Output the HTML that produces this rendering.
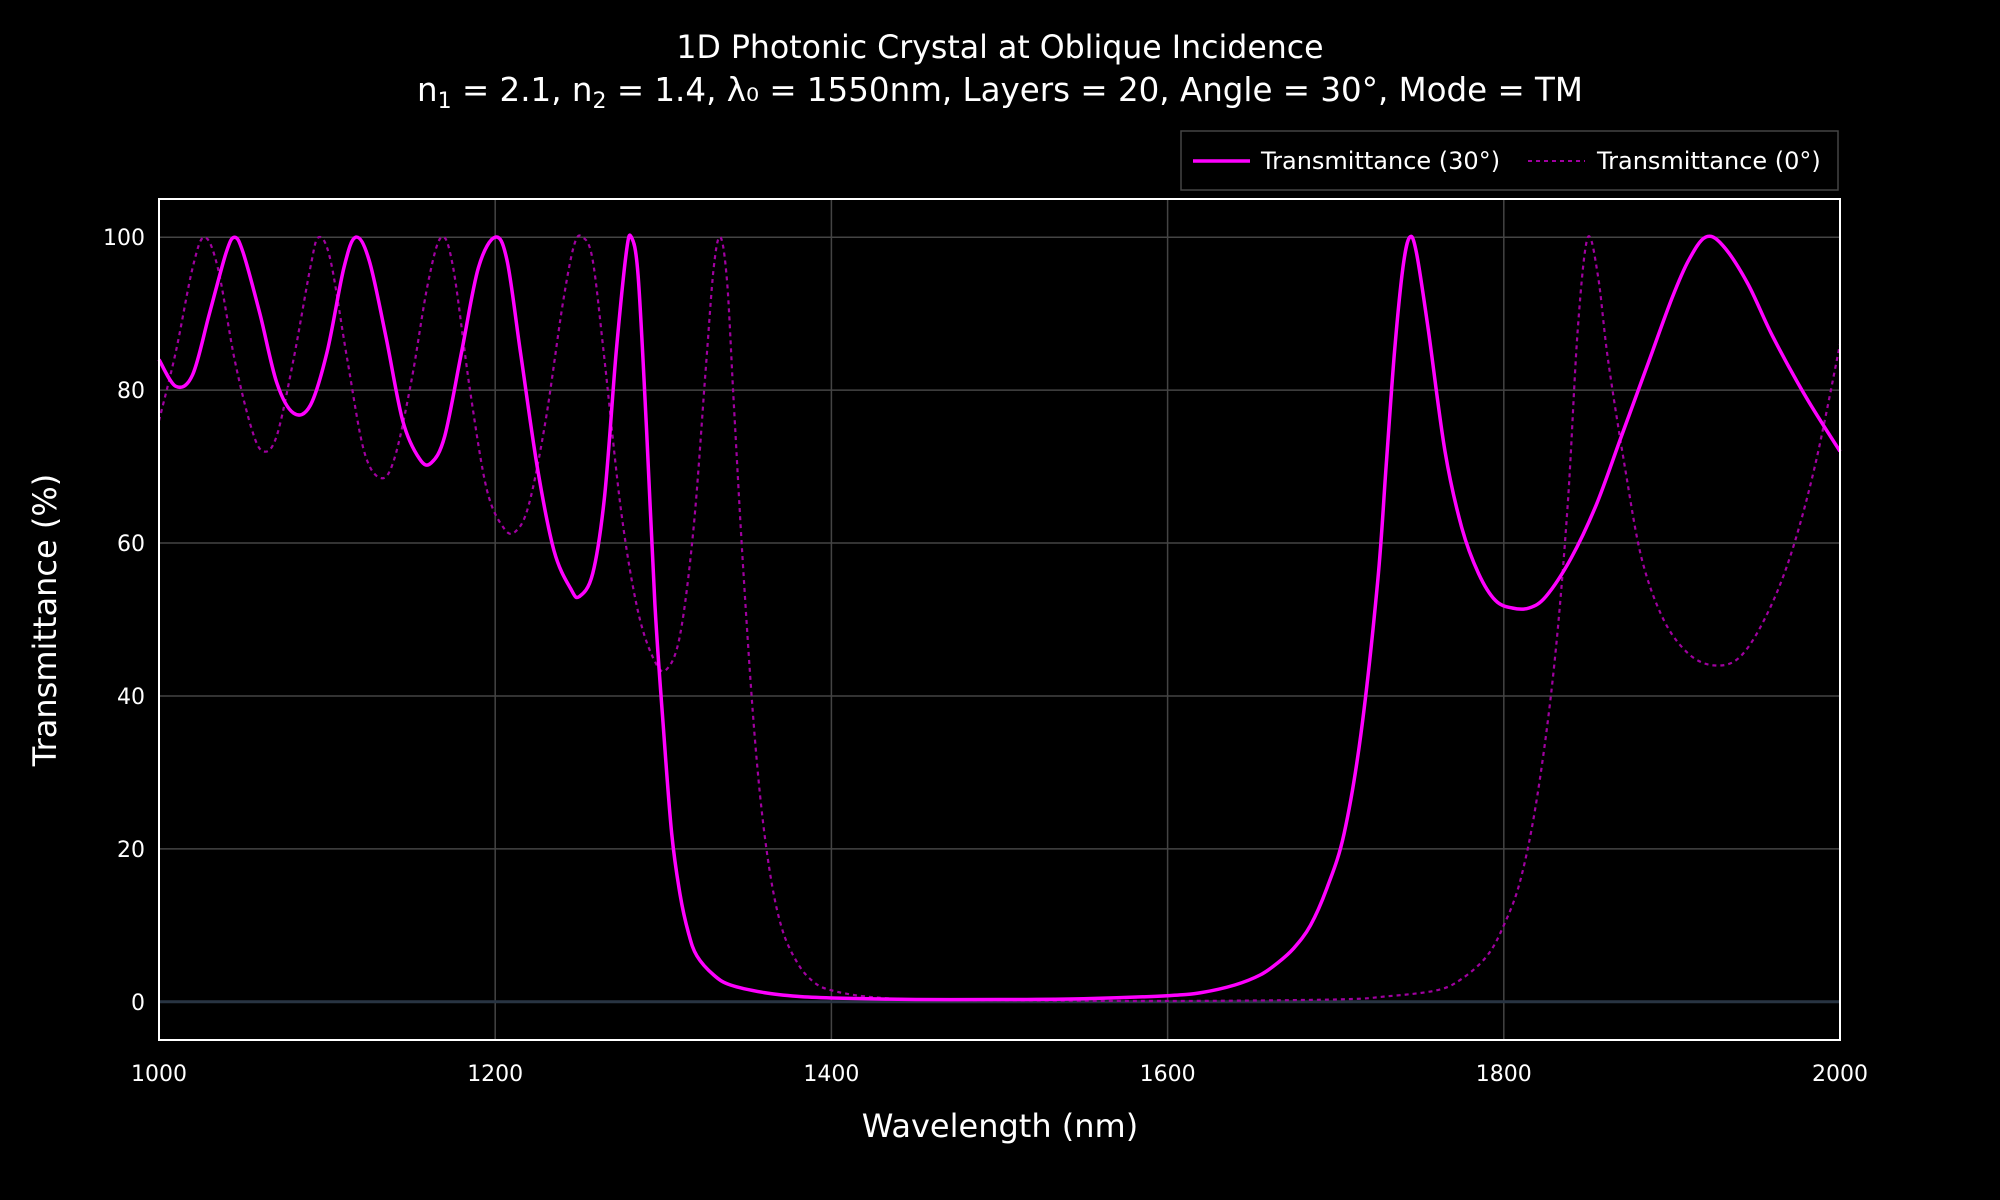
<!DOCTYPE html>
<html><head><meta charset="utf-8"><style>
html,body{margin:0;padding:0;background:#000;}
svg{display:block;font-family:"DejaVu Sans","Liberation Sans",sans-serif;}
</style></head><body>
<svg id="chart" width="2000" height="1200" viewBox="0 0 2000 1200">
<rect width="2000" height="1200" fill="#000"/>
<text x="1000" y="58" fill="#fff" font-size="31.6" text-anchor="middle">1D Photonic Crystal at Oblique Incidence</text>
<text x="1000" y="101" fill="#fff" font-size="32.5" text-anchor="middle">n<tspan font-size="22" dy="7">1</tspan><tspan dy="-7"> = 2.1, n</tspan><tspan font-size="22" dy="7">2</tspan><tspan dy="-7"> = 1.4, λ₀ = 1550nm, Layers = 20, Angle = 30°, Mode = TM</tspan></text>
<g id="grid"></g>
<g id="series"></g>
<rect x="159" y="199" width="1681" height="841" fill="none" stroke="#fff" stroke-width="2"/>
<g id="ticks"></g>
<text x="1000" y="1137" fill="#fff" font-size="32" text-anchor="middle">Wavelength (nm)</text>
<text x="56" y="620" fill="#fff" font-size="32" text-anchor="middle" transform="rotate(-90 56 620)">Transmittance (%)</text>
<g>
<rect x="1181" y="131" width="657" height="59" fill="#000" stroke="#444" stroke-width="1.5"/>
<line x1="1193" y1="161" x2="1250" y2="161" stroke="#ff00ff" stroke-width="3.5"/>
<text x="1261" y="169" fill="#fff" font-size="24">Transmittance (30°)</text>
<line x1="1528" y1="161" x2="1585" y2="161" stroke="#a000a0" stroke-width="2" stroke-dasharray="4,4"/>
<text x="1597" y="169" fill="#fff" font-size="24">Transmittance (0°)</text>
</g>
</svg>
<script>
const xTicks=[1000,1200,1400,1600,1800,2000];
const yTicks=[0,20,40,60,80,100];
const wl30=[1000,1010,1020,1030,1040,1045,1050,1060,1070,1080,1090,1100,1110,1117,1125,1135,1145,1155,1162,1170,1180,1190,1200,1207,1215,1225,1235,1245,1250,1258,1265,1272,1278,1281,1285,1290,1295,1300,1305,1310,1315,1320,1330,1340,1360,1380,1400,1450,1500,1550,1600,1620,1640,1655,1665,1675,1685,1695,1705,1715,1725,1730,1735,1740,1744,1748,1755,1765,1775,1785,1795,1805,1815,1825,1840,1855,1870,1885,1900,1910,1920,1930,1945,1960,1980,2000];
const t30=[84,80.5,82,90,98,100,98,90,81,77,78,85,96,100,97,87,76,71,70.5,74,85,96,100,97,85,70,59,54,53,56,66,85,98,100,95,75,52,36,22,14,9,6,3.5,2.2,1.2,0.7,0.5,0.3,0.3,0.4,0.8,1.2,2.2,3.5,5,7,10,15,22,35,55,70,85,96,100,98,88,72,62,56,52.5,51.5,51.5,53,58,65,74,83,92,97,100,99,94,87,79,72];
const wl0=[1000,1010,1020,1027,1035,1045,1055,1062,1070,1080,1090,1095,1102,1112,1122,1132,1140,1150,1160,1168,1175,1185,1195,1205,1212,1220,1230,1240,1247,1252,1258,1265,1275,1285,1295,1302,1310,1318,1325,1330,1334,1338,1342,1348,1355,1362,1370,1380,1390,1400,1420,1450,1500,1600,1700,1730,1760,1775,1790,1800,1810,1820,1830,1838,1844,1850,1856,1862,1872,1882,1895,1910,1925,1940,1955,1970,1985,2000];
const t0=[76,85,96,100,96,84,75,72,74,84,96,100,97,84,72,68.5,71,81,94,100,96,80,67,62,61.5,65,76,91,99,100,97,84,64,51,44.5,43.5,48,62,82,96,100,94,78,55,33,19,10,5,2.5,1.5,0.7,0.3,0.2,0.1,0.3,0.7,1.5,3,6,10,16,27,44,65,88,100,95,84,70,58,50,45.5,44,45,50,58,70,86];
const L=159,R=1840,T=199,B=1040;
const xs=v=>L+(v-1000)/1000*(R-L);
const ys=v=>B-(v+5)/110*(B-T);
const NS='http://www.w3.org/2000/svg';
const grid=document.getElementById('grid'),ticks=document.getElementById('ticks'),ser=document.getElementById('series');
function mk(tag,attrs,parent){const e=document.createElementNS(NS,tag);for(const k in attrs)e.setAttribute(k,attrs[k]);parent.appendChild(e);return e;}
xTicks.forEach(v=>{
  const g=mk('line',{x1:xs(v),x2:xs(v),y1:T,y2:B,stroke:'#444','stroke-width':1.5},grid);
  
  
  const t=mk('text',{x:xs(v),y:1081,fill:'#fff','font-size':22,'text-anchor':'middle'},ticks);
  t.textContent=v;
  
  
});
yTicks.forEach(v=>{
  const g=mk('line',{x1:L,x2:R,y1:ys(v),y2:ys(v),stroke:v===0?'#283442':'#444','stroke-width':v===0?3:1.5},grid);
  
  
  const t=mk('text',{x:145,y:ys(v)+8,fill:'#fff','font-size':22,'text-anchor':'end'},ticks);
  t.textContent=v;
  
  
});
function path(xa,ya){
  const P=xa.map((x,i)=>[xs(x),ys(ya[i])]);
  let d='M'+P[0][0].toFixed(1)+','+P[0][1].toFixed(1);
  for(let i=0;i<P.length-1;i++){
    const p0=P[Math.max(0,i-1)],p1=P[i],p2=P[i+1],p3=P[Math.min(P.length-1,i+2)];
    let c1y=p1[1]+(p2[1]-p0[1])/6,c2y=p2[1]-(p3[1]-p1[1])/6;
    const lo=Math.min(p1[1],p2[1])-6,hi=Math.max(p1[1],p2[1])+6;
    c1y=Math.max(lo,Math.min(hi,c1y));c2y=Math.max(lo,Math.min(hi,c2y));
    const c1x=p1[0]+(p2[0]-p0[0])/6,c2x=p2[0]-(p3[0]-p1[0])/6;
    d+='C'+c1x.toFixed(1)+','+c1y.toFixed(1)+' '+c2x.toFixed(1)+','+c2y.toFixed(1)+' '+p2[0].toFixed(1)+','+p2[1].toFixed(1);
  }
  return d;
}
const p0=mk('path',{d:path(wl0,t0),fill:'none',stroke:'#a000a0','stroke-width':2.2,'stroke-dasharray':'4,4','stroke-linejoin':'round'},ser);


const p30=mk('path',{d:path(wl30,t30),fill:'none',stroke:'#ff00ff','stroke-width':3.5,'stroke-linejoin':'round'},ser);


</script>
</body></html>
